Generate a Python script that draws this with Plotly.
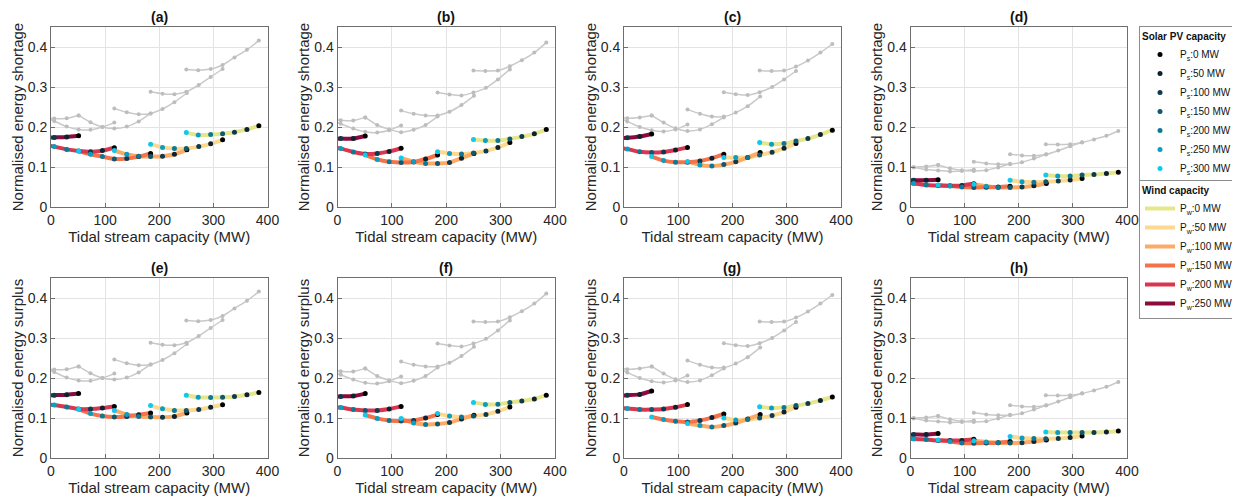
import plotly.graph_objects as go

# ---------------- data ----------------
SOLAR = [300, 250, 200, 150, 100, 50, 0]          # MW, order along each curve
WIND = [0, 50, 100, 150, 200, 250]                # MW
SOLAR_COLORS = {0: "#000000", 50: "#0c2230", 100: "#0d3a4c", 150: "#0f5870",
                200: "#0e7895", 250: "#0a9fc2", 300: "#12c8ec"}
WIND_COLORS = {0: "#e6e68c", 50: "#fdd98f", 100: "#fcaa65", 150: "#f5734a",
               200: "#d9364f", 250: "#8a0b3e"}

# tidal stream capacity (MW) of each point, one list per wind capacity
tidal_pw0 = [250, 272, 295, 317, 339, 362, 384]
tidal_pw50 = [184, 206, 228, 250, 273, 295, 317]
tidal_pw100 = [117, 140, 162, 184, 206, 228, 251]
tidal_pw150 = [51, 73, 95, 117, 140, 162, 184]
tidal_pw200 = [-16, 6, 29, 51, 73, 95, 117]
tidal_pw250 = [-16, 6, 29, 51]               # Ps = 150, 100, 50, 0
TIDAL = [tidal_pw0, tidal_pw50, tidal_pw100, tidal_pw150, tidal_pw200, tidal_pw250]

# normalised energy shortage (a-d) / surplus (e-h); rows = Pw 0..250
vals_a = [[0.186, 0.180, 0.181, 0.183, 0.187, 0.194, 0.203],
          [0.157, 0.149, 0.146, 0.146, 0.151, 0.158, 0.168],
          [0.141, 0.132, 0.127, 0.126, 0.127, 0.132, 0.143],
          [0.140, 0.132, 0.126, 0.120, 0.121, 0.126, 0.134],
          [0.156, 0.151, 0.144, 0.140, 0.138, 0.141, 0.148],
          [0.173, 0.174, 0.175, 0.178]]
vals_b = [[0.169, 0.166, 0.166, 0.170, 0.176, 0.183, 0.194],
          [0.138, 0.134, 0.1325, 0.135, 0.140, 0.149, 0.161],
          [0.1225, 0.113, 0.109, 0.109, 0.111, 0.122, 0.134],
          [0.130, 0.119, 0.113, 0.111, 0.1125, 0.120, 0.130],
          [0.150, 0.146, 0.1375, 0.1325, 0.134, 0.139, 0.147],
          [0.170, 0.171, 0.171, 0.1775]]
vals_c = [[0.161, 0.157, 0.159, 0.165, 0.171, 0.181, 0.192],
          [0.124, 0.124, 0.124, 0.130, 0.137, 0.147, 0.159],
          [0.114, 0.105, 0.1025, 0.106, 0.113, 0.124, 0.136],
          [0.126, 0.116, 0.112, 0.112, 0.115, 0.122, 0.132],
          [0.150, 0.145, 0.138, 0.136, 0.1375, 0.1425, 0.149],
          [0.172, 0.173, 0.176, 0.1825]]
vals_d = [[0.080, 0.0775, 0.0775, 0.080, 0.081, 0.084, 0.087],
          [0.067, 0.063, 0.062, 0.063, 0.065, 0.0675, 0.071],
          [0.057, 0.052, 0.049, 0.049, 0.050, 0.053, 0.059],
          [0.055, 0.0525, 0.050, 0.049, 0.0495, 0.050, 0.052],
          [0.062, 0.059, 0.055, 0.0535, 0.053, 0.054, 0.058],
          [0.067, 0.067, 0.067, 0.068]]
vals_e = [[0.157, 0.152, 0.151, 0.152, 0.154, 0.158, 0.164],
          [0.131, 0.123, 0.119, 0.119, 0.121, 0.127, 0.133],
          [0.119, 0.109, 0.104, 0.1025, 0.102, 0.104, 0.1125],
          [0.122, 0.111, 0.105, 0.1025, 0.104, 0.108, 0.1125],
          [0.135, 0.1325, 0.1275, 0.1225, 0.1225, 0.125, 0.129],
          [0.156, 0.157, 0.158, 0.161]]
vals_f = [[0.139, 0.134, 0.1345, 0.1385, 0.1425, 0.1475, 0.157],
          [0.111, 0.105, 0.1025, 0.105, 0.109, 0.1167, 0.1275],
          [0.0985, 0.0875, 0.084, 0.085, 0.089, 0.0975, 0.107],
          [0.1075, 0.099, 0.094, 0.0925, 0.094, 0.100, 0.1085],
          [0.129, 0.126, 0.121, 0.119, 0.119, 0.1225, 0.129],
          [0.153, 0.154, 0.155, 0.161]]
vals_g = [[0.128, 0.125, 0.126, 0.131, 0.136, 0.144, 0.1525],
          [0.100, 0.095, 0.096, 0.100, 0.106, 0.115, 0.127],
          [0.086, 0.081, 0.0775, 0.081, 0.0875, 0.0975, 0.1085],
          [0.1025, 0.096, 0.092, 0.090, 0.094, 0.101, 0.110],
          [0.126, 0.1235, 0.121, 0.121, 0.1225, 0.127, 0.1335],
          [0.155, 0.157, 0.159, 0.1675]]
vals_h = [[0.065, 0.064, 0.064, 0.064, 0.064, 0.065, 0.0675],
          [0.054, 0.050, 0.0485, 0.048, 0.049, 0.051, 0.055],
          [0.043, 0.040, 0.038, 0.0375, 0.038, 0.041, 0.045],
          [0.045, 0.041, 0.0375, 0.0367, 0.0375, 0.038, 0.041],
          [0.049, 0.0475, 0.046, 0.044, 0.0435, 0.044, 0.0467],
          [0.058, 0.0585, 0.0585, 0.061]]

# grey reference curves (same in both rows of a column)
grey_col1 = [[0.344, 0.342, 0.345, 0.355, 0.374, 0.393, 0.416],
             [0.288, 0.283, 0.282, 0.288, 0.305, 0.325, 0.345],
             [0.246, 0.237, 0.232, 0.234, 0.245, 0.262, 0.285],
             [0.229, 0.212, 0.200, 0.196, 0.201, 0.214, 0.234],
             [0.227, 0.215, 0.201, 0.194, 0.193, 0.200, 0.211],
             [0.226, 0.221, 0.222, 0.229]]
grey_col2 = [[0.341, 0.340, 0.341, 0.352, 0.367, 0.386, 0.411],
             [0.286, 0.281, 0.279, 0.286, 0.298, 0.319, 0.344],
             [0.241, 0.233, 0.229, 0.229, 0.238, 0.255, 0.278],
             [0.224, 0.205, 0.194, 0.187, 0.193, 0.205, 0.226],
             [0.222, 0.208, 0.196, 0.188, 0.186, 0.192, 0.204],
             [0.221, 0.217, 0.216, 0.224]]
grey_col3 = [[0.341, 0.340, 0.341, 0.351, 0.366, 0.386, 0.4075],
             [0.287, 0.282, 0.280, 0.287, 0.300, 0.319, 0.340],
             [0.244, 0.233, 0.226, 0.226, 0.236, 0.252, 0.276],
             [0.229, 0.211, 0.197, 0.190, 0.194, 0.207, 0.224],
             [0.228, 0.214, 0.200, 0.192, 0.189, 0.194, 0.206],
             [0.227, 0.222, 0.224, 0.229]]
grey_col4 = [[0.157, 0.156, 0.157, 0.161, 0.169, 0.178, 0.190],
             [0.132, 0.129, 0.128, 0.131, 0.141, 0.152, 0.162],
             [0.113, 0.109, 0.107, 0.107, 0.112, 0.121, 0.132],
             [0.105, 0.097, 0.092, 0.090, 0.092, 0.099, 0.108],
             [0.102, 0.099, 0.094, 0.091, 0.089, 0.090, 0.094],
             [0.102, 0.100, 0.101, 0.105]]

PANEL_LABELS = ["(a)", "(b)", "(c)", "(d)", "(e)", "(f)", "(g)", "(h)"]
PANEL_VALUES = [vals_a, vals_b, vals_c, vals_d, vals_e, vals_f, vals_g, vals_h]
PANEL_GREY = [grey_col1, grey_col2, grey_col3, grey_col4] * 2
Y_TITLES = ["Normalised energy shortage"] * 4 + ["Normalised energy surplus"] * 4
X_TITLE = "Tidal stream capacity (MW)"
X_TICKS = [0, 100, 200, 300, 400]
Y_TICKS = [0, 0.1, 0.2, 0.3, 0.4]

# ---------------- layout geometry ----------------
# the page body has an 8 px margin, so the figure is drawn 8 px in from the corner
OFF = 8
W, H = 1240 - OFF, 503 - OFF
COL_PX = [(51, 267.5), (337.5, 555), (624, 841), (910.5, 1127)]
ROW_PX = [(27, 207), (278, 458)]
TITLE_CY = [17, 268]
FONT = "Liberation Sans, Arial, sans-serif"
LEG_X0, LEG_X1 = 1139, 1232
LEG1_TOP, LEG2_TOP = 26, 180


def fx(px):
    return (px - OFF) / W


def fy(py):
    return 1 - (py - OFF) / H


def solar_of(k):
    return SOLAR if len(TIDAL[k]) == 7 else SOLAR[7 - len(TIDAL[k]):]


fig = go.Figure()
layout = dict(width=W, height=H, margin=dict(l=0, r=0, t=0, b=0, autoexpand=False),
              paper_bgcolor="white", plot_bgcolor="white",
              font=dict(family=FONT, color="#262626"), annotations=[], shapes=[])

for p in range(8):
    r, c = divmod(p, 4)
    ax = "" if p == 0 else str(p + 1)
    xref, yref = "x" + ax, "y" + ax
    x0, x1 = COL_PX[c]
    yt, yb = ROW_PX[r]
    common = dict(showline=True, mirror=True, linecolor="#6e6e6e", linewidth=1,
                  ticks="inside", ticklen=4, tickcolor="#6e6e6e", automargin=False,
                  showgrid=True, gridcolor="#e3e3e3", gridwidth=1, zeroline=False,
                  tickfont=dict(size=14, family=FONT, color="#262626"))
    layout["xaxis" + ax] = dict(common, domain=[fx(x0), fx(x1)], anchor=yref,
                                range=[0, 400], tickvals=X_TICKS,
                                title=dict(text=X_TITLE, font=dict(size=15), standoff=1))
    layout["yaxis" + ax] = dict(common, domain=[fy(yb), fy(yt)], anchor=xref,
                                range=[0, 0.45], tickvals=Y_TICKS,
                                ticktext=["0", "0.1", "0.2", "0.3", "0.4"],
                                title=dict(text=Y_TITLES[p], font=dict(size=15), standoff=0))
    layout["annotations"].append(dict(text="<b>" + PANEL_LABELS[p] + "</b>",
                                      x=fx((x0 + x1) / 2), y=fy(TITLE_CY[r]),
                                      xref="paper", yref="paper", xanchor="center",
                                      yanchor="middle", showarrow=False,
                                      font=dict(size=14, family=FONT, color="#111")))
    vals = PANEL_VALUES[p]
    grey = PANEL_GREY[p]
    # grey reference curves
    for k in range(len(WIND)):
        fig.add_trace(go.Scatter(x=TIDAL[k], y=grey[k], mode="lines+markers",
                                 line=dict(color="#c9c9c9", width=1.5, shape="spline", smoothing=0.6),
                                 marker=dict(color="#bdbdbd", size=4),
                                 xaxis=xref, yaxis=yref, showlegend=False, hoverinfo="skip"))
    # coloured wind curves
    for k, pw in enumerate(WIND):
        fig.add_trace(go.Scatter(x=TIDAL[k], y=vals[k], mode="lines",
                                 line=dict(color=WIND_COLORS[pw], width=4, shape="spline", smoothing=0.6),
                                 name="P<sub>w</sub>:%d MW" % pw, legend="legend2",
                                 showlegend=(p == 0), xaxis=xref, yaxis=yref))
    # solar markers
    for ps in sorted(SOLAR):
        xs, ys = [], []
        for k in range(len(WIND)):
            sl = solar_of(k)
            if ps in sl:
                i = sl.index(ps)
                xs.append(TIDAL[k][i])
                ys.append(vals[k][i])
        fig.add_trace(go.Scatter(x=xs, y=ys, mode="markers",
                                 marker=dict(color=SOLAR_COLORS[ps], size=5),
                                 name="P<sub>s</sub>:%d MW" % ps, legend="legend",
                                 showlegend=(p == 0), xaxis=xref, yaxis=yref))

leg_common = dict(xanchor="left", yanchor="top", bgcolor="white",
                  bordercolor="#8c8c8c", borderwidth=1, traceorder="normal",
                  font=dict(size=10, family=FONT, color="#111"), itemwidth=30,
                  tracegroupgap=0)
layout["legend"] = dict(leg_common, x=fx(LEG_X0), y=fy(LEG1_TOP),
                        title=dict(text="<b>Solar PV capacity</b>", side="top",
                                   font=dict(size=10, family=FONT)))
layout["legend2"] = dict(leg_common, x=fx(LEG_X0), y=fy(LEG2_TOP),
                         title=dict(text="<b>Wind capacity</b>", side="top",
                                    font=dict(size=10, family=FONT)))
# separator rule under each legend title (as in the original legend boxes)
for top in (LEG1_TOP, LEG2_TOP):
    layout["shapes"].append(dict(type="line", xref="paper", yref="paper",
                                 x0=fx(LEG_X0), x1=fx(LEG_X1), y0=fy(top + 17), y1=fy(top + 17),
                                 line=dict(color="#8c8c8c", width=1)))

fig.update_layout(**layout)
fig.write_html("out.html")
